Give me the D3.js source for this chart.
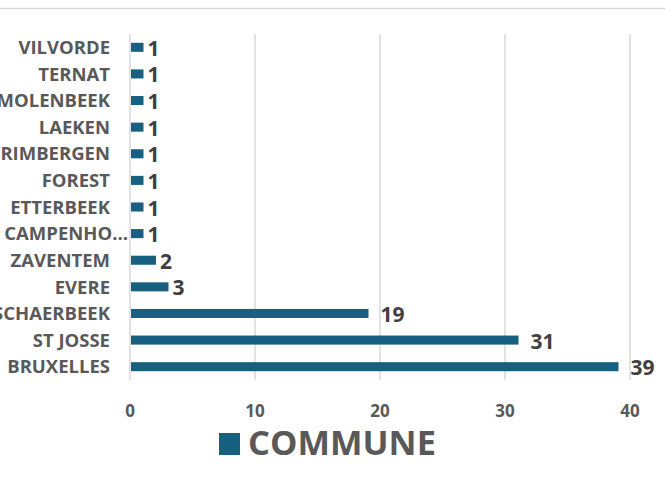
<!DOCTYPE html>
<html>
<head>
<meta charset="utf-8">
<script src="https://cdn.jsdelivr.net/npm/d3@7"></script>
<style>
  html, body { margin: 0; padding: 0; background: #fff; }
  svg { display: block; font-family: "Open Sans", sans-serif; font-weight: bold; }
</style>
</head>
<body>
<svg id="chart" width="665" height="486"></svg>
<script>
// values, top row first
const communes = ["VILVORDE", "TERNAT", "MOLENBEEK", "LAEKEN", "GRIMBERGEN", "FOREST",
  "ETTERBEEK", "CAMPENHOUT", "ZAVENTEM", "EVERE", "SCHAERBEEK", "ST JOSSE", "BRUXELLES"];
// the axis shows CAMPENHOUT cut short
const shownLabels = ["VILVORDE", "TERNAT", "MOLENBEEK", "LAEKEN", "GRIMBERGEN", "FOREST",
  "ETTERBEEK", "CAMPENHO\u2026", "ZAVENTEM", "EVERE", "SCHAERBEEK", "ST JOSSE", "BRUXELLES"];
const counts = [1, 1, 1, 1, 1, 1, 1, 1, 2, 3, 19, 31, 39];
const xTicks = [0, 10, 20, 30, 40];
const seriesName = "COMMUNE";

const data = communes.map((name, i) => ({ name, label: shownLabels[i], value: counts[i] }));

const svg = d3.select("#chart");
const margin = { top: 34, left: 130, right: 35, bottom: 106 };
const width = 665, height = 486;

const x = d3.scaleLinear().domain([0, 40]).range([margin.left, width - margin.right]);
const y = d3.scaleBand().domain(communes).range([margin.top, height - margin.bottom]).paddingInner(0.66).paddingOuter(0.33);

// chart frame line at the top
svg.append("line")
  .attr("x1", 0).attr("x2", width).attr("y1", 8.5).attr("y2", 8.5)
  .attr("stroke", "#d9d9d9").attr("stroke-width", 1.5);

// gridlines
svg.append("g")
  .selectAll("line")
  .data(xTicks)
  .join("line")
  .attr("x1", (d) => x(d)).attr("x2", (d) => x(d))
  .attr("y1", margin.top).attr("y2", height - margin.bottom)
  .attr("stroke", "#d9d9d9").attr("stroke-width", 1.5);

// x tick labels
svg.append("g")
  .selectAll("text")
  .data(xTicks)
  .join("text")
  .attr("x", (d) => x(d)).attr("y", 417)
  .attr("text-anchor", "middle")
  .attr("fill", "#595959").attr("font-size", 17)
  .text((d) => d);

// category labels; a cut label runs its ellipsis past the usual right edge
svg.append("g")
  .selectAll("text")
  .data(data)
  .join("text")
  .attr("x", (d) => (d.label.endsWith("\u2026") ? 128 : 110))
  .attr("y", (d) => y(d.name) + y.bandwidth() / 2)
  .attr("dy", "0.36em")
  .attr("text-anchor", "end")
  .attr("fill", "#595959").attr("font-size", 18.5)
  .text((d) => d.label);

// bars
svg.append("g")
  .selectAll("rect")
  .data(data)
  .join("rect")
  .attr("x", x(0) + 1)
  .attr("y", (d) => y(d.name))
  .attr("width", (d) => x(d.value) - x(0))
  .attr("height", y.bandwidth())
  .attr("fill", "#17607f");

// value labels
svg.append("g")
  .selectAll("text")
  .data(data)
  .join("text")
  .attr("x", (d) => x(d.value) + (String(d.value).length > 1 ? 13 : 5))
  .attr("y", (d) => y(d.name) + y.bandwidth() / 2 + 1)
  .attr("dy", "0.36em")
  .attr("fill", "#404040").attr("font-size", 21)
  .text((d) => d.value);

// legend
const legend = svg.append("g");
legend.append("rect")
  .attr("x", 219).attr("y", 433).attr("width", 21).attr("height", 22)
  .attr("fill", "#17607f");
legend.append("text")
  .attr("x", 248).attr("y", 455)
  .attr("fill", "#595959").attr("font-size", 34.5)
  .text(seriesName);
</script>
</body>
</html>
